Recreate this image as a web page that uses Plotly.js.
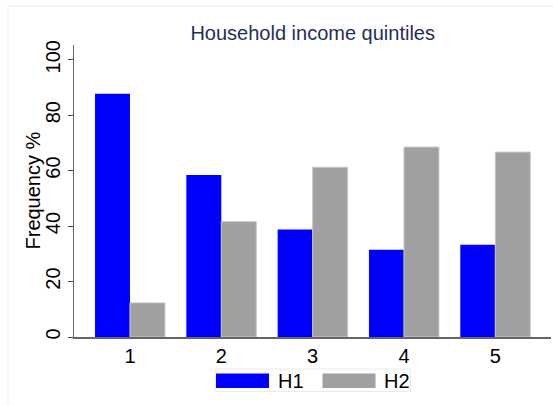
<!DOCTYPE html>
<html>
<head>
<meta charset="utf-8">
<script src="https://cdn.plot.ly/plotly-3.0.1.min.js"></script>
<style>
html,body{margin:0;padding:0;background:#fff;}
#chart{width:553px;height:406px;}
</style>
</head>
<body>
<div id="chart"></div>
<script>
const categories = [1, 2, 3, 4, 5];
const tickLabels = ["1", "2", "3", "4", "5"];
const seriesNames = ["H1", "H2"];
const h1Values = [87.7, 58.4, 38.8, 31.5, 33.3];
const h2Values = [12.3, 41.6, 61.2, 68.5, 66.7];
const yTicks = [0, 20, 40, 60, 80, 100];
const yTitle = 'Frequency %';
const chartTitle = 'Household income quintiles';

const W = 553, H = 406;
const M = {l: 74, r: 2, t: 45, b: 69};
const pw = W - M.l - M.r, ph = H - M.t - M.b;
const px = x => (x - M.l) / pw;
const py = y => (H - M.b - y) / ph;

const FONT = 'Arial, "Liberation Sans", sans-serif';
const blue = '#0000ff', grey = '#a0a0a0';

const traces = [
  {type: 'bar', name: seriesNames[0], x: categories, y: h1Values,
   marker: {color: blue, line: {color: blue, width: 0}}, showlegend: false, hoverinfo: 'none'},
  {type: 'bar', name: seriesNames[1], x: categories, y: h2Values,
   marker: {color: grey, line: {color: '#c8c8c8', width: 1}}, showlegend: false, hoverinfo: 'none'}
];

// custom legend (wide swatches as in reference)
const shapes = [
  {type: 'rect', xref: 'paper', yref: 'paper', x0: px(8), x1: px(560), y0: py(413), y1: py(6),
   line: {color: '#e4ecf0', width: 1}, fillcolor: 'rgba(0,0,0,0)', layer: 'below'},
  {type: 'rect', xref: 'paper', yref: 'paper', x0: px(215), x1: px(410.5), y0: py(391.5), y1: py(369),
   line: {color: '#e4ecf0', width: 1}, fillcolor: 'rgba(0,0,0,0)'},
  {type: 'rect', xref: 'paper', yref: 'paper', x0: px(216), x1: px(269), y0: py(388), y1: py(373.5),
   line: {width: 0}, fillcolor: blue},
  {type: 'rect', xref: 'paper', yref: 'paper', x0: px(322.5), x1: px(375.5), y0: py(388), y1: py(373.5),
   line: {width: 0}, fillcolor: grey}
];
const annotations = [
  {xref: 'paper', yref: 'paper', x: px(275.5), y: py(381), xanchor: 'left', yanchor: 'middle',
   text: seriesNames[0], showarrow: false, font: {family: FONT, size: 20, color: '#000'}},
  {xref: 'paper', yref: 'paper', x: px(382), y: py(381), xanchor: 'left', yanchor: 'middle',
   text: seriesNames[1], showarrow: false, font: {family: FONT, size: 20, color: '#000'}},
  {xref: 'paper', yref: 'paper', x: px(32.5), y: py(191), xanchor: 'center', yanchor: 'middle',
   textangle: -90, text: yTitle, showarrow: false, font: {family: FONT, size: 20, color: '#000'}}
];

const layout = {
  width: W, height: H,
  margin: M,
  paper_bgcolor: '#fff', plot_bgcolor: '#fff',
  font: {family: FONT, size: 20, color: '#000'},
  title: {text: chartTitle, font: {family: FONT, size: 20, color: '#1f2f5c'},
          x: px(312.7), xref: 'paper', xanchor: 'center', y: (H - 33) / H, yref: 'container', yanchor: 'middle'},
  barmode: 'group', bargap: 0.234, bargroupgap: 0,
  showlegend: false,
  xaxis: {range: [0.387, 5.61], tickvals: categories, ticktext: tickLabels,
          showgrid: false, zeroline: false, showline: true, linecolor: '#666', linewidth: 1.5,
          ticks: '', ticklen: 0, tickfont: {family: FONT, size: 20, color: '#000'}, fixedrange: true},
  yaxis: {range: [0, 105.3], tickvals: yTicks, ticktext: yTicks.map(String), tickangle: -90,
          showgrid: false, zeroline: false, showline: true, linecolor: '#666', linewidth: 1.5,
          ticks: 'outside', ticklen: 5, tickwidth: 1, tickcolor: '#444',
          tickfont: {family: FONT, size: 20, color: '#000'},
          fixedrange: true},
  shapes: shapes,
  annotations: annotations
};

Plotly.newPlot('chart', traces, layout, {displayModeBar: false, staticPlot: true});
</script>
</body>
</html>
